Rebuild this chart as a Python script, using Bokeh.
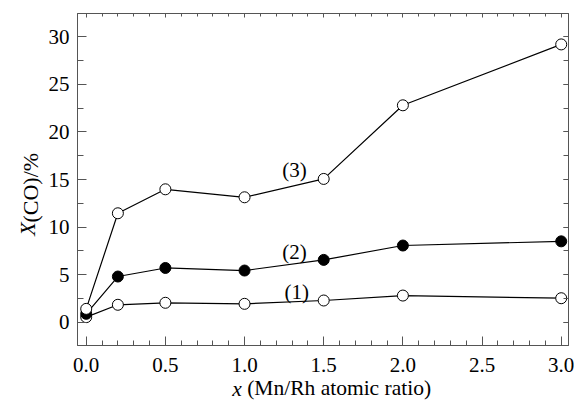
from bokeh.plotting import figure
from bokeh.models import (Range1d, LinearAxis, SingleIntervalTicker, FixedTicker, Label,
                          PrintfTickFormatter)
from bokeh.embed import file_html
from bokeh.resources import INLINE

x_ratio = [0.0, 0.2, 0.5, 1.0, 1.5, 2.0, 3.0]
conv_1 = [0.53, 1.83, 2.04, 1.93, 2.28, 2.8, 2.52]
conv_2 = [0.88, 4.8, 5.7, 5.43, 6.55, 8.06, 8.5]
conv_3 = [1.4, 11.45, 13.97, 13.13, 15.06, 22.8, 29.2]
series_labels = ["(1)", "(2)", "(3)"]
label_x = [1.33, 1.316, 1.316]
label_y = [3.17, 7.4, 16.05]

FONT = "Liberation Serif"
AX = "#555555"
NB = "\u00a0"

p = figure(width=574, height=404, output_backend="svg", toolbar_location=None,
           x_range=Range1d(-0.055, 3.046), y_range=Range1d(-2.45, 32.45),
           min_border_left=77, min_border_right=6, min_border_top=13, min_border_bottom=59)
p.xgrid.visible = False
p.ygrid.visible = False
p.outline_line_color = AX
p.outline_line_width = 1
p.background_fill_color = "white"
p.border_fill_color = "white"


def style_axis(ax, major_in, minor_in, labels=True, standoff=6):
    ax.axis_line_color = AX
    ax.major_tick_line_color = AX
    ax.minor_tick_line_color = AX
    ax.major_tick_in = major_in
    ax.major_tick_out = 0
    ax.minor_tick_in = minor_in
    ax.minor_tick_out = 0
    if labels:
        ax.major_label_text_font = FONT
        ax.major_label_text_font_size = "21px"
        ax.major_label_text_color = "black"
        ax.major_label_standoff = standoff
    else:
        ax.major_label_text_font_size = "1px"
        ax.major_label_text_color = None
        ax.major_label_standoff = 0


xax = p.xaxis[0]
yax = p.yaxis[0]
xax.ticker = SingleIntervalTicker(interval=0.5, num_minor_ticks=5)
yax.ticker = SingleIntervalTicker(interval=5, num_minor_ticks=2)
xax.formatter = PrintfTickFormatter(format="%.1f")
style_axis(xax, 9, 5, True, 12)
style_axis(yax, 9, 6, True, 8)

xax.axis_label = NB * 6 + "(Mn/Rh atomic ratio)"
xax.axis_label_text_font = FONT
xax.axis_label_text_font_size = "21.5px"
xax.axis_label_text_font_style = "normal"
xax.axis_label_text_color = "black"
xax.axis_label_standoff = 1

yax.axis_label = "(CO)/%" + NB * 3
yax.axis_label_text_font = FONT
yax.axis_label_text_font_size = "22px"
yax.axis_label_text_font_style = "normal"
yax.axis_label_text_color = "black"
yax.axis_label_standoff = 3

top_ax = LinearAxis(ticker=SingleIntervalTicker(interval=0.5, num_minor_ticks=5))
style_axis(top_ax, 4, 3, False)
p.add_layout(top_ax, "above")
right_ax = LinearAxis(ticker=SingleIntervalTicker(interval=5, num_minor_ticks=2))
style_axis(right_ax, 5, 5, False)
p.add_layout(right_ax, "right")


def symbol_axis(text, size, standoff):
    ax = LinearAxis(ticker=FixedTicker(ticks=[]))
    ax.axis_line_color = None
    ax.major_tick_line_color = None
    ax.minor_tick_line_color = None
    ax.major_tick_in = ax.major_tick_out = 0
    ax.minor_tick_in = ax.minor_tick_out = 0
    ax.major_label_text_font_size = "1px"
    ax.major_label_text_color = None
    ax.major_label_standoff = 0
    ax.axis_label = text
    ax.axis_label_text_font = FONT
    ax.axis_label_text_font_size = size
    ax.axis_label_text_font_style = "italic"
    ax.axis_label_text_color = "black"
    ax.axis_label_standoff = standoff
    return ax

p.add_layout(symbol_axis("x" + NB * 32, "21.5px", -26), "below")
p.add_layout(symbol_axis("X" + NB * 18, "22px", -25), "left")

for ys, fill in [(conv_1, "white"), (conv_2, "black"), (conv_3, "white")]:
    p.line(x_ratio, ys, line_color="black", line_width=1.2)
    p.scatter(x_ratio, ys, marker="circle", size=11, fill_color=fill,
              line_color="black", line_width=1)

for t, lx, ly in zip(series_labels, label_x, label_y):
    p.add_layout(Label(x=lx, y=ly, text=t, text_font=FONT, text_font_size="21px",
                       text_align="center", text_baseline="middle", text_color="black"))

open("out.html", "w").write(file_html(p, INLINE))
